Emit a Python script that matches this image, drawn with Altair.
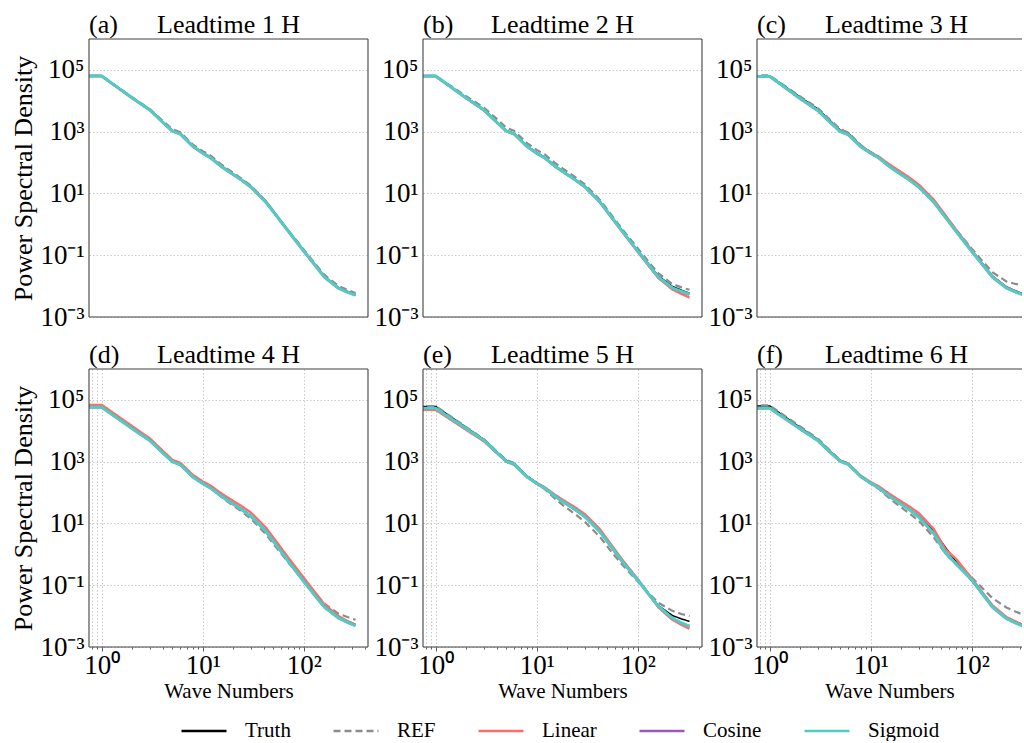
import altair as alt
import pandas as pd

SERIF = "Liberation Serif"

# wave numbers sampled along the curves
WN = [0.5, 1, 2, 3, 4, 5, 6, 8, 10, 12, 15, 18, 24, 30, 42, 55, 70, 100, 130, 160, 220, 270, 325]

SERIES = ["Truth", "REF", "Linear", "Cosine", "Sigmoid"]
COLORS = ["#000000", "#8c8c8c", "#ff6b6b", "#9b59b6", "#4ecdc4"]
DASHES = [[1, 0], [7, 4], [1, 0], [1, 0], [1, 0]]
WIDTHS = [1.5, 2.2, 2.4, 2.4, 3.0]

PANEL_TAGS = ["(a)", "(b)", "(c)", "(d)", "(e)", "(f)"]
PANEL_TITLES = ["Leadtime 1 H", "Leadtime 2 H", "Leadtime 3 H",
                "Leadtime 4 H", "Leadtime 5 H", "Leadtime 6 H"]

# log10 of power spectral density
A_TRUTH = [4.81, 4.81, 4.10, 3.71, 3.32, 3.03, 2.93, 2.53, 2.31, 2.16, 1.90, 1.72, 1.45, 1.22, 0.74, 0.24, -0.21, -0.86, -1.33, -1.70, -2.05, -2.17, -2.27]
A_REF = [4.81, 4.81, 4.12, 3.73, 3.36, 3.08, 2.98, 2.58, 2.37, 2.22, 1.96, 1.77, 1.49, 1.25, 0.76, 0.25, -0.19, -0.82, -1.28, -1.64, -1.99, -2.12, -2.22]
A_LIN = [4.80, 4.80, 4.10, 3.71, 3.32, 3.04, 2.94, 2.54, 2.32, 2.17, 1.91, 1.73, 1.46, 1.22, 0.75, 0.25, -0.20, -0.85, -1.32, -1.69, -2.05, -2.18, -2.28]
A_COS = [4.80, 4.80, 4.09, 3.70, 3.31, 3.02, 2.92, 2.52, 2.30, 2.15, 1.89, 1.71, 1.44, 1.21, 0.73, 0.23, -0.22, -0.87, -1.34, -1.71, -2.07, -2.19, -2.29]
A_SIG = [4.80, 4.80, 4.09, 3.70, 3.31, 3.02, 2.92, 2.52, 2.30, 2.15, 1.89, 1.71, 1.44, 1.20, 0.72, 0.23, -0.22, -0.87, -1.34, -1.71, -2.07, -2.20, -2.29]

B_TRUTH = [4.81, 4.81, 4.11, 3.72, 3.33, 3.04, 2.94, 2.54, 2.32, 2.17, 1.91, 1.73, 1.46, 1.23, 0.75, 0.25, -0.20, -0.85, -1.31, -1.67, -2.01, -2.13, -2.23]
B_REF = [4.81, 4.81, 4.15, 3.78, 3.42, 3.13, 3.02, 2.63, 2.41, 2.26, 2.00, 1.81, 1.53, 1.29, 0.80, 0.30, -0.15, -0.78, -1.24, -1.59, -1.93, -2.04, -2.12]
B_LIN = [4.79, 4.79, 4.09, 3.70, 3.31, 3.02, 2.92, 2.52, 2.30, 2.15, 1.89, 1.71, 1.44, 1.21, 0.73, 0.22, -0.23, -0.89, -1.37, -1.74, -2.11, -2.25, -2.37]
B_COS = [4.80, 4.80, 4.09, 3.70, 3.31, 3.02, 2.92, 2.52, 2.30, 2.15, 1.89, 1.71, 1.44, 1.21, 0.73, 0.23, -0.22, -0.87, -1.34, -1.71, -2.06, -2.18, -2.27]
B_SIG = [4.80, 4.80, 4.09, 3.70, 3.31, 3.02, 2.92, 2.52, 2.30, 2.15, 1.89, 1.71, 1.44, 1.21, 0.73, 0.23, -0.22, -0.87, -1.34, -1.71, -2.06, -2.17, -2.26]

C_TRUTH = [4.81, 4.81, 4.12, 3.73, 3.34, 3.05, 2.95, 2.55, 2.33, 2.18, 1.92, 1.74, 1.47, 1.23, 0.75, 0.25, -0.20, -0.85, -1.31, -1.67, -2.02, -2.15, -2.25]
C_REF = [4.82, 4.82, 4.14, 3.76, 3.37, 3.08, 2.97, 2.56, 2.34, 2.18, 1.92, 1.73, 1.46, 1.22, 0.75, 0.26, -0.17, -0.79, -1.22, -1.55, -1.85, -1.93, -1.98]
C_LIN = [4.79, 4.79, 4.08, 3.69, 3.30, 3.02, 2.92, 2.53, 2.33, 2.19, 1.96, 1.79, 1.52, 1.28, 0.80, 0.29, -0.18, -0.84, -1.31, -1.68, -2.04, -2.17, -2.28]
C_COS = [4.79, 4.79, 4.07, 3.68, 3.29, 3.00, 2.90, 2.51, 2.30, 2.15, 1.89, 1.71, 1.44, 1.20, 0.72, 0.22, -0.23, -0.88, -1.34, -1.71, -2.06, -2.19, -2.28]
C_SIG = [4.79, 4.79, 4.07, 3.68, 3.29, 3.00, 2.90, 2.51, 2.30, 2.15, 1.89, 1.71, 1.44, 1.20, 0.72, 0.22, -0.23, -0.88, -1.34, -1.71, -2.06, -2.19, -2.29]

D_TRUTH = [4.78, 4.78, 4.10, 3.71, 3.32, 3.03, 2.93, 2.53, 2.31, 2.16, 1.92, 1.74, 1.48, 1.25, 0.77, 0.27, -0.19, -0.84, -1.30, -1.66, -2.02, -2.16, -2.27]
D_REF = [4.78, 4.78, 4.11, 3.73, 3.34, 3.05, 2.94, 2.53, 2.30, 2.14, 1.88, 1.68, 1.40, 1.15, 0.66, 0.17, -0.26, -0.86, -1.28, -1.60, -1.92, -2.03, -2.12]
D_LIN = [4.84, 4.84, 4.15, 3.75, 3.36, 3.06, 2.96, 2.57, 2.36, 2.22, 1.99, 1.82, 1.57, 1.35, 0.87, 0.36, -0.10, -0.76, -1.24, -1.62, -2.00, -2.16, -2.28]
D_COS = [4.76, 4.76, 4.07, 3.68, 3.29, 3.00, 2.90, 2.50, 2.29, 2.14, 1.90, 1.72, 1.46, 1.23, 0.75, 0.24, -0.22, -0.88, -1.35, -1.71, -2.06, -2.20, -2.31]
D_SIG = [4.76, 4.76, 4.07, 3.68, 3.29, 3.00, 2.90, 2.50, 2.29, 2.14, 1.90, 1.72, 1.46, 1.23, 0.75, 0.24, -0.22, -0.88, -1.35, -1.71, -2.06, -2.20, -2.31]

E_TRUTH = [4.79, 4.79, 4.11, 3.72, 3.33, 3.04, 2.94, 2.54, 2.32, 2.16, 1.90, 1.71, 1.44, 1.20, 0.72, 0.22, -0.24, -0.83, -1.30, -1.66, -1.98, -2.09, -2.17]
E_REF = [4.80, 4.80, 4.12, 3.73, 3.34, 3.05, 2.95, 2.53, 2.29, 2.11, 1.82, 1.60, 1.30, 1.05, 0.57, 0.08, -0.33, -0.88, -1.28, -1.57, -1.83, -1.93, -2.00]
E_LIN = [4.68, 4.68, 4.03, 3.66, 3.29, 3.00, 2.90, 2.51, 2.31, 2.17, 1.94, 1.77, 1.52, 1.30, 0.82, 0.30, -0.17, -0.80, -1.31, -1.72, -2.12, -2.28, -2.41]
E_COS = [4.73, 4.73, 4.07, 3.69, 3.30, 3.01, 2.91, 2.51, 2.29, 2.14, 1.89, 1.71, 1.45, 1.22, 0.74, 0.23, -0.23, -0.84, -1.32, -1.68, -2.07, -2.22, -2.33]
E_SIG = [4.73, 4.73, 4.07, 3.69, 3.30, 3.01, 2.91, 2.51, 2.29, 2.14, 1.89, 1.71, 1.45, 1.22, 0.74, 0.23, -0.23, -0.84, -1.32, -1.68, -2.07, -2.22, -2.33]

F_TRUTH = [4.80, 4.80, 4.11, 3.72, 3.33, 3.04, 2.94, 2.54, 2.32, 2.17, 1.92, 1.74, 1.47, 1.24, 0.76, 0.22, -0.24, -0.86, -1.32, -1.69, -2.05, -2.18, -2.28]
F_REF = [4.82, 4.82, 4.14, 3.74, 3.35, 3.05, 2.94, 2.53, 2.29, 2.12, 1.84, 1.63, 1.33, 1.08, 0.55, 0.02, -0.33, -0.75, -1.12, -1.42, -1.72, -1.85, -1.96]
F_LIN = [4.74, 4.74, 4.07, 3.69, 3.31, 3.03, 2.93, 2.54, 2.34, 2.20, 1.98, 1.81, 1.55, 1.33, 0.82, 0.16, -0.15, -0.78, -1.27, -1.65, -2.03, -2.17, -2.30]
F_COS = [4.73, 4.73, 4.06, 3.68, 3.29, 3.01, 2.91, 2.51, 2.30, 2.15, 1.90, 1.72, 1.45, 1.20, 0.68, 0.05, -0.31, -0.83, -1.32, -1.71, -2.08, -2.22, -2.33]
F_SIG = [4.73, 4.73, 4.06, 3.68, 3.29, 3.01, 2.91, 2.51, 2.30, 2.15, 1.90, 1.72, 1.45, 1.20, 0.68, 0.04, -0.31, -0.83, -1.32, -1.71, -2.08, -2.22, -2.33]

PANELS = [
    [A_TRUTH, A_REF, A_LIN, A_COS, A_SIG],
    [B_TRUTH, B_REF, B_LIN, B_COS, B_SIG],
    [C_TRUTH, C_REF, C_LIN, C_COS, C_SIG],
    [D_TRUTH, D_REF, D_LIN, D_COS, D_SIG],
    [E_TRUTH, E_REF, E_LIN, E_COS, E_SIG],
    [F_TRUTH, F_REF, F_LIN, F_COS, F_SIG],
]

X_TICKS = [0.8, 0.9, 1, 2, 3, 4, 5, 6, 7, 8, 9, 10, 20, 30, 40, 50, 60, 70, 80, 90, 100, 200, 300, 400]
Y_TICKS = [0.001, 0.1, 10, 1000, 100000]

rows = []
for p, series_list in enumerate(PANELS):
    for name, vals in zip(SERIES, series_list):
        for w, v in zip(WN, vals):
            rows.append({"panel": p, "series": name, "wn": w, "psd": 10 ** v})
df = pd.DataFrame(rows)

H = 278
# plot widths per column; the third column is cut by the figure edge
WIDTHS_COL = [279, 279, 265]
X_DOMAINS = [[0.749, 432], [0.749, 432], [0.749, 314]]
FRAME = "#404040"
y_scale = alt.Scale(type="log", domain=[0.001, 1000000], nice=False)
color_scale = alt.Scale(domain=SERIES, range=COLORS)
dash_scale = alt.Scale(domain=SERIES, range=DASHES)

legend = alt.Legend(
    title=None, orient="none", direction="horizontal", columns=5,
    legendX=91, legendY=668,
    symbolType="stroke", symbolSize=2025, symbolStrokeWidth=2.4,
    labelFont=SERIF, labelFontSize=21, labelColor="black",
    labelOffset=17, columnPadding=37,
)

y_label_expr = ("datum.value == 100000 ? '10\u2075' : datum.value == 1000 ? '10\u00b3' : "
                "datum.value == 10 ? '10\u00b9' : datum.value == 0.1 ? '10\u207b\u00b9' : '10\u207b\u00b3'")
x_label_expr = ("datum.value == 1 ? '10\u2070' : datum.value == 10 ? '10\u00b9' : "
                "datum.value == 100 ? '10\u00b2' : ''")
major_test = "datum.value == 1 || datum.value == 10 || datum.value == 100"
grid_test = "datum.value < 1.05 || datum.value == 10 || datum.value == 100"

one = pd.DataFrame({"k": [0]})


def frame_rules(width, right):
    rules = [
        alt.Chart(one).mark_rule(color=FRAME, strokeWidth=1.1).encode(
            x=alt.value(0), y=alt.value(0), y2=alt.value(H)),
        alt.Chart(one).mark_rule(color=FRAME, strokeWidth=1.1).encode(
            x=alt.value(0), x2=alt.value(width), y=alt.value(0)),
        alt.Chart(one).mark_rule(color=FRAME, strokeWidth=1.1).encode(
            x=alt.value(0), x2=alt.value(width), y=alt.value(H)),
    ]
    if right:
        rules.append(alt.Chart(one).mark_rule(color=FRAME, strokeWidth=1.1).encode(
            x=alt.value(width), y=alt.value(0), y2=alt.value(H)))
    return rules


def make_panel(i):
    bottom = i >= 3
    col = i % 3
    left = col == 0
    width = WIDTHS_COL[col]
    x_scale = alt.Scale(type="log", domain=X_DOMAINS[col], nice=False)
    d = df[df.panel == i]
    y_axis = alt.Axis(
        values=Y_TICKS, labelExpr=y_label_expr, tickSize=0, labelPadding=5,
        domain=False, grid=True, gridDash=[1.5, 2], gridColor="#c4c4c4", gridWidth=0.9,
        labelFont=SERIF, labelFontSize=27, labelColor="black", labelOverlap=False,
        labelFlush=False,
        title="Power Spectral Density" if left else None,
        titleFont=SERIF, titleFontSize=26, titleFontWeight="normal", titleColor="black",
        titlePadding=3,
    )
    if bottom:
        x_axis = alt.Axis(
            values=X_TICKS, labelExpr=x_label_expr, domain=False,
            tickSize={"condition": {"test": major_test, "value": 4}, "value": 2},
            tickColor="#333333", tickWidth=0.8,
            grid=True, gridDash=[1.5, 2], gridColor="#c4c4c4", gridWidth=0.9,
            gridOpacity={"condition": {"test": grid_test, "value": 1}, "value": 0},
            labelFont=SERIF, labelFontSize=27, labelColor="black", labelPadding=1,
            labelOverlap=False, labelFlush=False, labelBound=False,
            title="Wave Numbers", titleFont=SERIF, titleFontSize=21,
            titleFontWeight="normal", titleColor="black", titlePadding=2,
        )
    else:
        x_axis = None
    layers = []
    for s, w in zip(SERIES, WIDTHS):
        layers.append(
            alt.Chart(d[d.series == s]).mark_line(clip=True, strokeWidth=w).encode(
                x=alt.X("wn:Q", scale=x_scale, axis=x_axis),
                y=alt.Y("psd:Q", scale=y_scale, axis=y_axis),
                color=alt.Color("series:N", scale=color_scale, legend=legend),
                strokeDash=alt.StrokeDash("series:N", scale=dash_scale, legend=legend),
                order=alt.Order("wn:Q"),
            )
        )
    layers.extend(frame_rules(width, right=(col != 2)))
    tag = alt.Chart(pd.DataFrame({"t": [PANEL_TAGS[i]]})).mark_text(
        align="left", baseline="alphabetic", font=SERIF, fontSize=26, color="black"
    ).encode(text="t:N", x=alt.value(0), y=alt.value(-6))
    title = alt.Chart(pd.DataFrame({"t": [PANEL_TITLES[i]]})).mark_text(
        align="center", baseline="alphabetic", font=SERIF, fontSize=26, color="black"
    ).encode(text="t:N", x=alt.value(139.5), y=alt.value(-6))
    layers.append(tag)
    layers.append(title)
    return alt.layer(*layers).properties(width=width, height=H)


chart = alt.concat(
    *[make_panel(i) for i in range(6)], columns=3,
    spacing={"row": 52, "column": 55}, bounds="flush", align="each",
).properties(
    padding={"left": 10, "top": 12, "right": 0, "bottom": 0},
    background="white",
).configure_view(strokeOpacity=0)

chart.save("out.html", embed_options={"renderer": "svg", "actions": False})
